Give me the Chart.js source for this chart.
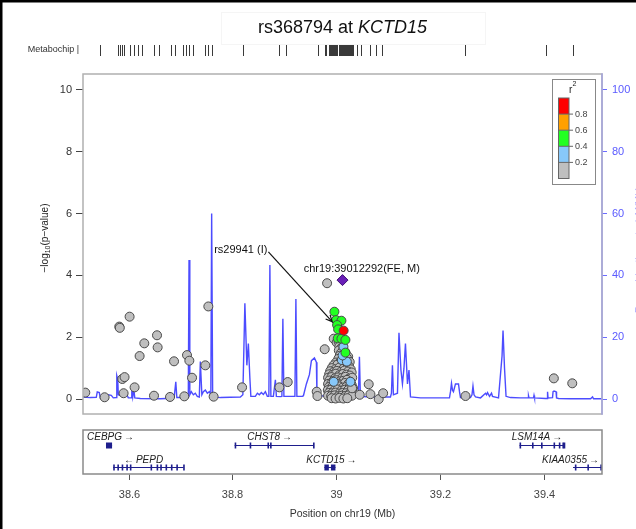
<!DOCTYPE html>
<html>
<head>
<meta charset="utf-8">
<script src="https://cdn.jsdelivr.net/npm/chart.js@4.4.0/dist/chart.umd.min.js"></script>
<style>
html, body { margin: 0; padding: 0; background: #fff; }
canvas { display: block; }
</style>
</head>
<body>
<canvas id="plot" width="636" height="529"></canvas>
<script>
const FONT = "'Liberation Sans', Arial, Helvetica, sans-serif";

// --- region (Mb) and axes ---
const xRange = [38.5123, 39.5123];
const xTicks = [38.6, 38.8, 39, 39.2, 39.4];
const yTicks = [0, 2, 4, 6, 8, 10];
const y2Ticks = [0, 20, 40, 60, 80, 100];

// --- SNPs, grouped by r2 bin ---
const grayPos = [
  38.5167, 38.5539, 38.5822, 38.5832, 38.6021, 38.6304, 38.6549, 38.6561, 38.6214, 38.5880,
  38.5924, 38.5905, 38.6117, 38.6491, 38.6800, 38.6877, 38.7075, 38.7127, 38.7172, 38.7224,
  38.7480, 38.7538, 38.7640, 38.8188, 38.8907, 38.9067, 38.9626, 38.9640, 38.9780, 38.9826,
  38.9954,
  39.0010, 39.0048,
  39.0062, 39.0101,
  39.0052, 39.0139,
  39.0090, 39.0178,
  39.0070, 39.0232,
  39.0043, 39.0120, 39.0210,
  38.9995, 39.0081, 39.0158, 39.0262,
  38.9950, 39.0024, 39.0110, 39.0190, 39.0250,
  38.9915, 38.9990, 39.0065, 39.0140, 39.0215, 39.0282,
  38.9885, 38.9950, 39.0015, 39.0090, 39.0160, 39.0230, 39.0300,
  38.9865, 38.9930, 38.9995, 39.0060, 39.0130, 39.0200, 39.0265,
  38.9845, 38.9910, 38.9975, 39.0040, 39.0110, 39.0180, 39.0245, 39.0310,
  38.9870, 38.9940, 39.0005, 39.0070, 39.0140, 39.0210, 39.0275,
  38.9845, 38.9910, 38.9970, 39.0035, 39.0100, 39.0170, 39.0235, 39.0300,
  38.9860, 38.9925, 38.9990, 39.0060, 39.0125, 39.0195, 39.0260, 39.0325,
  38.9840, 38.9900, 38.9965, 39.0030, 39.0095, 39.0165, 39.0230, 39.0295,
  38.9860, 38.9925, 38.9990, 39.0060, 39.0125, 39.0190, 39.0255,
  38.9845, 38.9905, 38.9970, 39.0040, 39.0105, 39.0175, 39.0240, 39.0305,
  38.9915, 38.9990, 39.0065, 39.0140, 39.0215,
  39.0308, 39.0455, 39.0628, 39.0661, 39.0821, 39.0906, 39.2493, 39.4195, 39.4550
];
const grayLogP = [
  0.22, 0.07, 2.35, 2.31, 2.67, 1.81, 2.07, 1.68, 1.40, 0.66,
  0.72, 0.20, 0.39, 0.12, 0.08, 1.23, 0.10, 1.43, 1.25, 0.70,
  1.10, 3.00, 0.09, 0.39, 0.39, 0.56, 0.25, 0.11, 1.62, 3.75,
  1.96,
  1.84, 1.87,
  1.71, 1.66,
  1.58, 1.62,
  1.49, 1.52,
  1.41, 1.38,
  1.31, 1.28, 1.33,
  1.19, 1.22, 1.17, 1.21,
  1.10, 1.12, 1.08, 1.11, 1.06,
  1.01, 0.98, 1.03, 0.99, 1.02, 0.97,
  0.91, 0.88, 0.92, 0.89, 0.93, 0.90, 0.87,
  0.81, 0.79, 0.83, 0.78, 0.82, 0.80, 0.77,
  0.70, 0.72, 0.68, 0.71, 0.69, 0.73, 0.67, 0.70,
  0.61, 0.59, 0.62, 0.58, 0.60, 0.63, 0.57,
  0.50, 0.52, 0.49, 0.51, 0.48, 0.53, 0.50, 0.47,
  0.40, 0.41, 0.39, 0.42, 0.38, 0.40, 0.41, 0.37,
  0.30, 0.31, 0.29, 0.32, 0.28, 0.31, 0.30, 0.29,
  0.21, 0.20, 0.22, 0.19, 0.21, 0.20, 0.18,
  0.12, 0.11, 0.13, 0.10, 0.12, 0.11, 0.13, 0.12,
  0.04, 0.03, 0.05, 0.03, 0.04,
  0.36, 0.15, 0.49, 0.17, 0.01, 0.20, 0.11, 0.68, 0.52
];
const bluePos  = [39.0141, 39.0110, 39.0207, 39.0125, 38.9954, 39.0276];
const blueLogP = [1.70, 1.27, 1.22, 1.42, 0.57, 0.57];
const greenPos  = [38.9967, 39.0000, 39.0102, 39.0019, 39.0039, 39.0031, 39.0102, 39.0179, 39.0179];
const greenLogP = [2.83, 2.56, 2.54, 2.40, 2.26, 1.97, 1.96, 1.92, 1.51];
const redPos  = [39.0145];
const redLogP = [2.22];
const leadPos  = [39.012292];
const leadLogP = [3.85];

// --- recombination rate (cM/Mb) ---
const recombPos = [
  38.5123, 38.5263, 38.5379, 38.5398, 38.5437, 38.5456, 38.5572, 38.5610, 38.5668, 38.5707,
  38.5764, 38.5774, 38.5793, 38.5803, 38.5841, 38.5880, 38.5918, 38.5957, 38.5996, 38.6053,
  38.6063, 38.6082, 38.6102, 38.6121, 38.6227, 38.6613, 38.6844, 38.6882, 38.6911, 38.6931,
  38.6998, 38.7037, 38.7075, 38.7114, 38.7152, 38.7166, 38.7181, 38.7210, 38.7249, 38.7287,
  38.7325, 38.7364, 38.7384, 38.7413, 38.7442, 38.7480, 38.7519, 38.7557, 38.7586, 38.7602,
  38.7621, 38.7654, 38.7770, 38.7962, 38.8155, 38.8203, 38.8242, 38.8280, 38.8309, 38.8338,
  38.8357, 38.8444, 38.8483, 38.8521, 38.8560, 38.8598, 38.8637, 38.8675, 38.8704, 38.8724,
  38.8743, 38.8791, 38.8830, 38.8849, 38.8926, 38.8955, 38.8974, 38.8994, 38.9119, 38.9206,
  38.9225, 38.9244, 38.9350, 38.9370, 38.9427, 38.9485, 38.9524, 38.9582, 38.9620, 38.9630,
  38.9697, 38.9890, 39.0083, 39.0276, 39.0411, 39.0430, 39.0449, 39.0468, 39.0661, 39.0854,
  39.1047, 39.1066, 39.1085, 39.1104, 39.1182, 39.1211, 39.1249, 39.1278, 39.1307, 39.1336,
  39.1375, 39.1404, 39.1433, 39.1625, 39.1818, 39.2011, 39.2184, 39.2204, 39.2223, 39.2242,
  39.2261, 39.2300, 39.2358, 39.2377, 39.2396, 39.2589, 39.2618, 39.2637, 39.2657, 39.2686,
  39.2782, 39.2879, 39.2898, 39.2917, 39.2956, 39.2994, 39.3013, 39.3129, 39.3197, 39.3216,
  39.3245, 39.3274, 39.3360, 39.3553, 39.3698, 39.3707, 39.3717, 39.3804, 39.3813, 39.3823,
  39.4035, 39.4064, 39.4074, 39.4083, 39.4170, 39.4180, 39.4199, 39.4238, 39.4247, 39.4286,
  39.4517, 39.4903, 39.4941, 39.4961, 39.5123
];
const recombRate = [
  0.8, 0.6, 0.7, 2.4, 2.2, 0.5, 0.7, 1.5, 1.3, 0.5,
  0.6, 7.7, 6.5, 1.5, 1.2, 2.3, 1.0, 2.0, 0.5, 0.5,
  3.5, 0.8, 3.2, 0.5, 0.3, 0.2, 0.4, 1.0, 5.7, 0.6,
  0.6, 1.5, 1.0, 1.2, 0.8, 45.0, 1.5, 2.5, 1.5, 2.0,
  1.0, 0.8, 12.2, 1.5, 2.5, 3.0, 2.0, 2.5, 1.5, 60.0,
  1.5, 0.8, 0.6, 0.7, 0.8, 1.5, 31.0, 11.0, 18.0, 7.0,
  1.0, 1.0, 2.0, 1.5, 2.2, 1.6, 2.5, 1.0, 1.0, 43.4,
  1.0, 1.0, 6.3, 1.0, 0.9, 1.0, 26.0, 1.0, 1.0, 1.0,
  32.4, 1.0, 1.0, 1.2, 5.0, 8.0, 12.5, 13.4, 12.0, 1.5,
  1.2, 1.0, 1.0, 1.2, 1.0, 1.5, 13.8, 1.0, 0.8, 0.8,
  0.8, 2.0, 11.0, 1.5, 2.0, 21.5, 9.5, 5.0, 10.0, 18.0,
  5.0, 9.5, 0.8, 0.5, 0.5, 0.5, 0.5, 2.5, 5.2, 3.0,
  2.5, 5.0, 5.0, 2.5, 0.6, 0.6, 1.5, 4.3, 1.5, 0.8,
  0.5, 2.0, 1.5, 2.2, 1.0, 2.0, 1.0, 0.5, 14.0, 22.2,
  10.0, 1.0, 0.6, 0.5, 0.5, 1.2, 0.5, 0.5, 1.3, 0.5,
  0.3, 0.3, 2.5, 0.5, 0.6, 2.5, 2.7, 2.5, 0.5, 0.3,
  0.2, 0.2, 0.8, 0.2, 0.2
];

// --- Metabochip SNP positions (rug) ---
const chipPos = [
  38.5444, 38.5795, 38.5836, 38.5874, 38.5913, 38.6030, 38.6110, 38.6187, 38.6266, 38.6500,
  38.6578, 38.6813, 38.6890, 38.7048, 38.7110, 38.7172, 38.7235, 38.7478, 38.7540, 38.7604,
  38.8197, 38.8901, 38.9042, 38.9651, 38.9784, 38.9813,
  38.9863, 38.9886, 38.9905, 38.9925, 38.9948, 38.9967, 38.9985, 39.0006, 39.0024, 39.0047,
  39.0068, 39.0085, 39.0104, 39.0126, 39.0147, 39.0166, 39.0188, 39.0207, 39.0229, 39.0251,
  39.0270, 39.0291, 39.0313, 39.0334, 39.0411,
  39.0472, 39.0646, 39.0763, 39.0879, 39.2483, 39.4047, 39.4556
];

// --- genes ---
const geneNames  = ['CEBPG', 'PEPD', 'CHST8', 'KCTD15', 'LSM14A', 'KIAA0355'];
const geneStart  = [38.5566, 38.5705, 38.8045, 38.9774, 39.3534, 39.4565];
const geneEnd    = [38.5683, 38.7060, 38.9560, 38.9987, 39.4394, 39.5300];
const geneStrand = ['+', '-', '+', '+', '+', '+'];
const geneRow    = [0, 1, 0, 1, 0, 1];
const geneLabelAt = [38.5630, 38.6290, 38.8720, 38.9910, 39.3870, 39.4760];
const geneExons = [
  [[38.5566, 38.5683]],
  [[38.5705, 38.5712], [38.5785, 38.5792], [38.5868, 38.5875], [38.5957, 38.5964], [38.6026, 38.6033],
   [38.6424, 38.6431], [38.6541, 38.6548], [38.6611, 38.6618], [38.6713, 38.6720], [38.6817, 38.6824],
   [38.6921, 38.6928], [38.7053, 38.7060]],
  [[38.8045, 38.8050], [38.8334, 38.8340], [38.8677, 38.8683], [38.8727, 38.8739], [38.9555, 38.9560]],
  [[38.9774, 38.9860], [38.9900, 38.9987]],
  [[39.3534, 39.3539], [39.3774, 39.3780], [39.3948, 39.3954], [39.4189, 39.4200], [39.4291, 39.4300],
   [39.4360, 39.4372], [39.4385, 39.4394]],
  [[39.4600, 39.4606], [39.4841, 39.4847], [39.5090, 39.5100]]
];

// --- r2 legend ---
const r2Colors = ['#ff0000', '#ffa000', '#22ff22', '#87c8fa', '#bfbfbf'];
const r2Breaks = ['0.8', '0.6', '0.4', '0.2'];

// --- labelled SNPs ---
const leadLabel = 'chr19:39012292(FE, M)';
const leadLabelAt = [38.9375, 4.21];
const arrowLabel = 'rs29941 (I)';
const arrowFrom = [38.8695, 4.76];
const arrowTo = [38.9923, 2.51];

const pts = (xs, ys) => xs.map((x, i) => ({ x: x, y: ys[i] }));

function snpSet(label, xs, ys, color, order) {
  return {
    label: label,
    data: pts(xs, ys),
    backgroundColor: color,
    borderColor: '#4a4a4a',
    borderWidth: 1,
    pointRadius: 4.5,
    order: order
  };
}

const locusPlugin = {
  id: 'locus',
  beforeDraw(chart) {
    const ctx = chart.ctx;
    ctx.save();
    ctx.fillStyle = '#fff';
    ctx.fillRect(0, 0, chart.width, chart.height);
    ctx.restore();
  },
  afterDraw(chart) {
    const ctx = chart.ctx, a = chart.chartArea;
    const xs = chart.scales.x, ys = chart.scales.y;
    const midX = (a.left + a.right) / 2;
    ctx.save();

    // plot frame
    ctx.strokeStyle = '#b0b0b0';
    ctx.lineWidth = 1.5;
    ctx.strokeRect(a.left, a.top, a.right - a.left, a.bottom - a.top);
    ctx.strokeStyle = '#a4a4de';
    ctx.beginPath(); ctx.moveTo(a.right, a.top - 0.75); ctx.lineTo(a.right, a.bottom + 0.75); ctx.stroke();

    // title
    ctx.font = `18px ${FONT}`;
    const t1 = 'rs368794 at ';
    const w1 = ctx.measureText(t1).width;
    ctx.font = `italic 18px ${FONT}`;
    const w2 = ctx.measureText('KCTD15').width;
    const tx = midX - (w1 + w2) / 2;
    ctx.strokeStyle = '#f5f5f5';
    ctx.lineWidth = 1;
    ctx.strokeRect(221.5, 12.5, 264, 32);
    ctx.fillStyle = '#111';
    ctx.textBaseline = 'middle';
    ctx.textAlign = 'left';
    ctx.font = `18px ${FONT}`;
    ctx.fillText(t1, tx, 28);
    ctx.font = `italic 18px ${FONT}`;
    ctx.fillText('KCTD15', tx + w1, 28);

    // Metabochip rug
    ctx.font = `9px ${FONT}`;
    ctx.fillStyle = '#333';
    ctx.textAlign = 'right';
    ctx.fillText('Metabochip |', 79, 50);
    ctx.strokeStyle = '#3a3a3a';
    ctx.lineWidth = 1;
    chipPos.forEach(p => {
      const px = Math.round(xs.getPixelForValue(p)) + 0.5;
      ctx.beginPath(); ctx.moveTo(px, 45); ctx.lineTo(px, 56); ctx.stroke();
    });

    // labelled SNPs
    ctx.font = `11px ${FONT}`;
    ctx.fillStyle = '#111';
    ctx.textAlign = 'left';
    ctx.fillText(leadLabel, xs.getPixelForValue(leadLabelAt[0]), ys.getPixelForValue(leadLabelAt[1]));
    const ax0 = xs.getPixelForValue(arrowFrom[0]), ay0 = ys.getPixelForValue(arrowFrom[1]);
    const ax1 = xs.getPixelForValue(arrowTo[0]), ay1 = ys.getPixelForValue(arrowTo[1]);
    ctx.textAlign = 'right';
    ctx.fillText(arrowLabel, ax0 - 1, ay0 - 2);
    ctx.strokeStyle = '#111';
    ctx.lineWidth = 1.2;
    ctx.beginPath(); ctx.moveTo(ax0, ay0); ctx.lineTo(ax1, ay1); ctx.stroke();
    const ang = Math.atan2(ay1 - ay0, ax1 - ax0);
    ctx.beginPath();
    ctx.moveTo(ax1 - 7 * Math.cos(ang - 0.45), ay1 - 7 * Math.sin(ang - 0.45));
    ctx.lineTo(ax1, ay1);
    ctx.lineTo(ax1 - 7 * Math.cos(ang + 0.45), ay1 - 7 * Math.sin(ang + 0.45));
    ctx.stroke();

    // r2 legend
    ctx.strokeStyle = '#888';
    ctx.lineWidth = 1;
    ctx.strokeRect(552.5, 79.5, 43, 105);
    r2Colors.forEach((c, i) => {
      ctx.fillStyle = c;
      ctx.fillRect(558.5, 98 + i * 16.1, 10.5, 16.1);
    });
    ctx.strokeStyle = '#666';
    ctx.strokeRect(558.5, 98, 10.5, 80.5);
    ctx.font = `9px ${FONT}`;
    ctx.textAlign = 'left';
    ctx.fillStyle = '#444';
    r2Breaks.forEach((b, i) => {
      const by = 98 + (i + 1) * 16.1;
      ctx.beginPath(); ctx.moveTo(558.5, by); ctx.lineTo(573, by); ctx.stroke();
      ctx.fillText(b, 575, by + 0.5);
    });
    ctx.fillStyle = '#222';
    ctx.font = `10px ${FONT}`;
    ctx.fillText('r', 569, 90);
    ctx.font = `7px ${FONT}`;
    ctx.fillText('2', 572.5, 84);

    // axis titles
    ctx.save();
    ctx.translate(45, 238);
    ctx.rotate(-Math.PI / 2);
    ctx.fillStyle = '#222';
    ctx.font = `10px ${FONT}`;
    const pA = '\u2212log', pB = '10', pC = '(p\u2212value)';
    const wA = ctx.measureText(pA).width, wC = ctx.measureText(pC).width;
    ctx.font = `7px ${FONT}`;
    const wB = ctx.measureText(pB).width;
    let lx = -(wA + wB + wC) / 2;
    ctx.textAlign = 'left';
    ctx.font = `10px ${FONT}`;
    ctx.fillText(pA, lx, 0);
    ctx.font = `7px ${FONT}`;
    ctx.fillText(pB, lx + wA, 3);
    ctx.font = `10px ${FONT}`;
    ctx.fillText(pC, lx + wA + wB, 0);
    ctx.restore();

    ctx.save();
    ctx.translate(643, 250);
    ctx.rotate(-Math.PI / 2);
    ctx.fillStyle = 'rgba(110,110,255,0.55)';
    ctx.font = `10px ${FONT}`;
    ctx.textAlign = 'center';
    ctx.textBaseline = 'alphabetic';
    ctx.fillText('Recombination rate (cM/Mb)', 0, 0);
    ctx.restore();

    // gene panel
    const gTop = 430, gBot = 474;
    const rowText = [437, 460], rowLine = [445, 467];
    ctx.save();
    ctx.beginPath();
    ctx.rect(a.left, gTop, a.right - a.left, gBot - gTop);
    ctx.clip();
    ctx.strokeStyle = '#1e1e8c';
    ctx.fillStyle = '#1e1e8c';
    ctx.lineWidth = 1;
    geneNames.forEach((g, i) => {
      const y = rowLine[geneRow[i]];
      const gx0 = xs.getPixelForValue(geneStart[i]), gx1 = xs.getPixelForValue(geneEnd[i]);
      ctx.beginPath(); ctx.moveTo(gx0, y + 0.5); ctx.lineTo(gx1, y + 0.5); ctx.stroke();
      geneExons[i].forEach(e => {
        const ex0 = xs.getPixelForValue(e[0]), ex1 = xs.getPixelForValue(e[1]);
        ctx.fillRect(ex0, y - 2.5, Math.max(1.6, ex1 - ex0), 6);
      });
    });
    ctx.font = `italic 10px ${FONT}`;
    ctx.fillStyle = '#222';
    ctx.textAlign = 'left';
    ctx.textBaseline = 'middle';
    geneNames.forEach((g, i) => {
      const txt = geneStrand[i] === '+' ? g + '\u2009\u2192' : '\u2190\u2009' + g;
      const w = ctx.measureText(txt).width;
      let cx = xs.getPixelForValue(geneLabelAt[i]) - w / 2;
      cx = Math.max(a.left + 4, Math.min(a.right - 3 - w, cx));
      ctx.fillText(txt, cx, rowText[geneRow[i]]);
    });
    ctx.restore();
    ctx.strokeStyle = '#8a8a8a';
    ctx.lineWidth = 1.5;
    ctx.strokeRect(a.left, gTop, a.right - a.left, gBot - gTop);

    // x axis under the gene panel
    ctx.strokeStyle = '#555';
    ctx.lineWidth = 1;
    ctx.fillStyle = '#444';
    ctx.font = `11px ${FONT}`;
    ctx.textAlign = 'center';
    ctx.textBaseline = 'middle';
    xTicks.forEach(v => {
      const px = Math.round(xs.getPixelForValue(v)) + 0.5;
      ctx.beginPath(); ctx.moveTo(px, gBot + 0.75); ctx.lineTo(px, gBot + 6); ctx.stroke();
      ctx.fillText(String(v), px, 495);
    });
    ctx.fillStyle = '#333';
    ctx.font = `10.5px ${FONT}`;
    ctx.fillText('Position on chr19 (Mb)', midX, 514);

    // page border
    ctx.fillStyle = '#000';
    ctx.fillRect(0, 0, 2.5, chart.height);
    ctx.fillRect(0, 0, chart.width, 2.5);
    ctx.restore();
  }
};

new Chart(document.getElementById('plot'), {
  type: 'scatter',
  data: {
    datasets: [
      {
        label: 'recomb',
        data: pts(recombPos, recombRate),
        yAxisID: 'y2',
        showLine: true,
        pointRadius: 0,
        borderColor: 'rgba(45,45,255,0.85)',
        borderWidth: 1.4,
        tension: 0,
        order: 10
      },
      snpSet('r2 < 0.2', grayPos, grayLogP, '#bfbfbf', 6),
      snpSet('0.2-0.4', bluePos, blueLogP, '#87c8fa', 5),
      snpSet('0.4-0.6', greenPos, greenLogP, '#22ff22', 4),
      snpSet('0.8-1', redPos, redLogP, '#ff0000', 3),
      {
        label: 'lead',
        data: pts(leadPos, leadLogP),
        pointStyle: 'rectRot',
        pointRadius: 5.5,
        backgroundColor: '#6a1fb8',
        borderColor: '#3e0f74',
        borderWidth: 1,
        order: 1
      }
    ]
  },
  options: {
    responsive: false,
    animation: false,
    events: [],
    layout: { padding: { top: 74, bottom: 115, left: 0, right: 0 } },
    plugins: { legend: { display: false }, tooltip: { enabled: false }, title: { display: false } },
    scales: {
      x: { type: 'linear', min: xRange[0], max: xRange[1], display: false },
      y: {
        position: 'left',
        min: -0.47,
        max: 10.5,
        afterBuildTicks: s => { s.ticks = yTicks.map(v => ({ value: v })); },
        afterFit: s => { s.width = 83; },
        border: { display: false },
        grid: { drawOnChartArea: false, drawTicks: true, tickLength: 7, color: '#444' },
        ticks: { color: '#333', padding: 4, font: { family: FONT, size: 11 } }
      },
      y2: {
        position: 'right',
        min: -4.7,
        max: 105,
        afterBuildTicks: s => { s.ticks = y2Ticks.map(v => ({ value: v })); },
        afterFit: s => { s.width = 34; },
        border: { display: false },
        grid: { drawOnChartArea: false, drawTicks: true, tickLength: 5, color: '#6b6bff' },
        ticks: { color: '#5a5aff', padding: 5, font: { family: FONT, size: 11 } }
      }
    }
  },
  plugins: [locusPlugin]
});
</script>
</body>
</html>
